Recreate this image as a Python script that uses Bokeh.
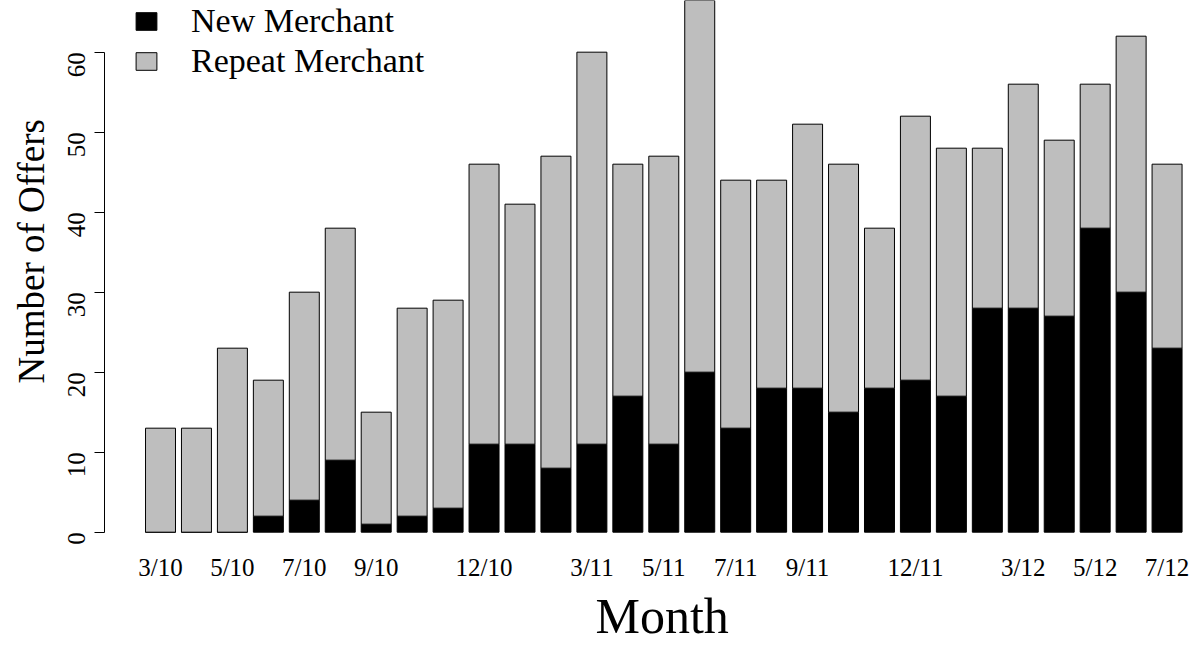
from bokeh.plotting import figure
from bokeh.models import (ColumnDataSource, FixedTicker, Range1d, Legend, LegendItem, Title)
from bokeh.embed import file_html
from bokeh.resources import INLINE
import math

# ---- data ----
months = ["3/10", "4/10", "5/10", "6/10", "7/10", "8/10", "9/10", "10/10", "11/10", "12/10",
          "1/11", "2/11", "3/11", "4/11", "5/11", "6/11", "7/11", "8/11", "9/11", "10/11",
          "11/11", "12/11", "1/12", "2/12", "3/12", "4/12", "5/12", "6/12", "7/12"]
new_merchant = [0, 0, 0, 2, 4, 9, 1, 2, 3, 11, 11, 8, 11, 17, 11, 20, 13, 18, 18, 15,
                18, 19, 17, 28, 28, 27, 38, 30, 23]
total_offers = [13, 13, 23, 19, 30, 38, 15, 28, 29, 46, 41, 47, 60, 46, 47, 68, 44, 44, 51, 46,
                38, 52, 48, 48, 56, 49, 56, 62, 46]
shown_labels = ["3/10", "5/10", "7/10", "9/10", "12/10", "3/11", "5/11", "7/11", "9/11",
                "12/11", "3/12", "5/12", "7/12"]
y_ticks = [0, 10, 20, 30, 40, 50, 60]

repeat_merchant = [t - n for t, n in zip(total_offers, new_merchant)]
idx = list(range(len(months)))
src = ColumnDataSource(dict(x=idx, new=new_merchant, total=total_offers,
                            repeat=repeat_merchant, zero=[0] * len(idx)))

FONT = "Liberation Serif"

p = figure(width=1200, height=647, output_backend="svg", toolbar_location=None,
           x_range=Range1d(-1.558, 28.93), y_range=Range1d(-1.665, 66.46),
           min_border_left=104, min_border_right=0, min_border_top=0, min_border_bottom=102)
p.outline_line_color = None
p.grid.visible = False
p.background_fill_color = "white"
p.border_fill_color = "white"

bw = 0.834
r_new = p.vbar(x="x", bottom="zero", top="new", width=bw, source=src,
               fill_color="black", line_color="black", line_width=1)
r_rep = p.vbar(x="x", bottom="new", top="total", width=bw, source=src,
               fill_color="#BEBEBE", line_color="black", line_width=1)

# x axis: labels only
p.xaxis.ticker = FixedTicker(ticks=[months.index(m) for m in shown_labels])
p.xaxis.major_label_overrides = {months.index(m): m for m in shown_labels}
p.xaxis.axis_line_color = None
p.xaxis.major_tick_line_color = None
p.xaxis.minor_tick_line_color = None
p.xaxis.major_tick_out = 0
p.xaxis.major_tick_in = 0
p.xaxis.major_label_standoff = 8
p.xaxis.major_label_text_font = FONT
p.xaxis.major_label_text_font_size = "25px"
p.xaxis.major_label_text_color = "black"

# y axis
p.yaxis.ticker = FixedTicker(ticks=y_ticks)
p.yaxis.bounds = (0, 60)
p.yaxis.axis_line_color = "black"
p.yaxis.axis_line_width = 1
p.yaxis.major_tick_in = 0
p.yaxis.major_tick_out = 10
p.yaxis.major_tick_line_color = "black"
p.yaxis.minor_tick_line_color = None
p.yaxis.major_label_orientation = math.pi / 2
p.yaxis.major_label_standoff = 18
p.yaxis.major_label_text_font = FONT
p.yaxis.major_label_text_font_size = "25px"
p.yaxis.major_label_text_color = "black"

# axis titles
p.add_layout(Title(text="Month", align="left", offset=491, standoff=5, text_font=FONT,
                   text_font_size="50px", text_font_style="normal",
                   text_color="black"), "below")
p.add_layout(Title(text="Number of Offers", align="left", offset=162, text_font=FONT,
                   text_font_size="37px", text_font_style="normal",
                   text_color="black"), "left")

legend = Legend(items=[LegendItem(label="New Merchant", renderers=[r_new]),
                       LegendItem(label="Repeat Merchant", renderers=[r_rep])],
                location=(29, 465), orientation="vertical")
legend.border_line_color = None
legend.background_fill_alpha = 0
legend.padding = 0
legend.margin = 0
legend.spacing = 2
legend.glyph_width = 26
legend.glyph_height = 22
legend.label_height = 22
legend.label_standoff = 32
legend.label_text_font = FONT
legend.label_text_font_size = "34px"
legend.label_text_color = "black"
p.add_layout(legend)

open("out.html", "w").write(file_html(p, INLINE))
